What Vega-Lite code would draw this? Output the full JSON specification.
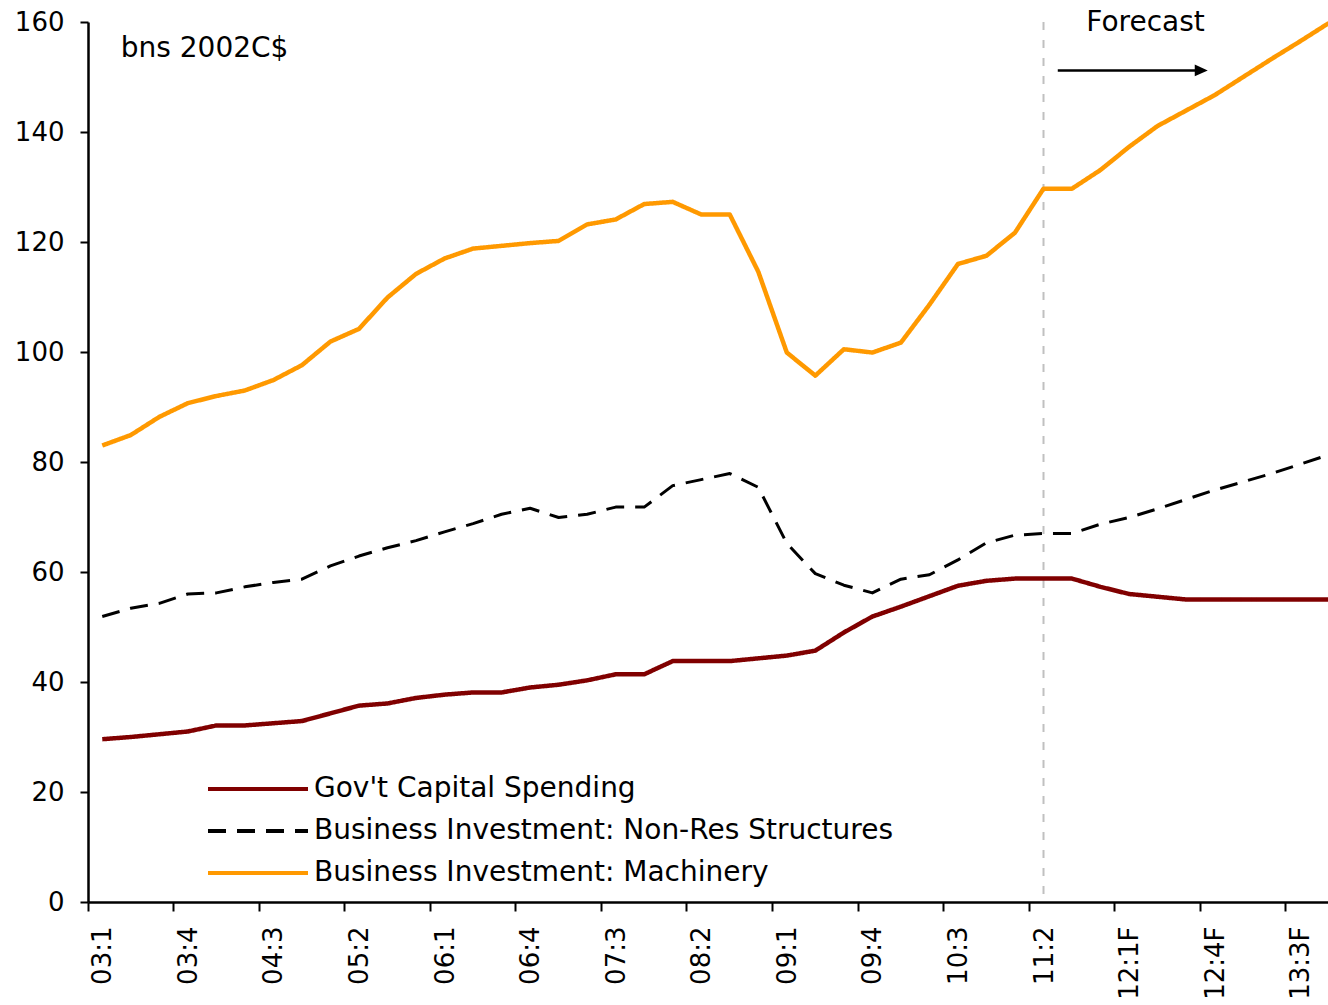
{
  "$schema": "https://vega.github.io/schema/vega-lite/v6.json",
  "width": 1240,
  "height": 880,
  "autosize": {"type": "none"},
  "padding": {"left": 88, "top": 22, "right": 0, "bottom": 103},
  "background": "white",
  "config": {
    "view": {"stroke": null},
    "font": "DejaVu Sans",
    "text": {"font": "DejaVu Sans"}
  },
  "layer": [
    {
      "data": {"values": [{"q": "11:2"}]},
      "mark": {"type": "rule", "color": "#C0C0C0", "strokeWidth": 2, "strokeDash": [8, 10]},
      "encoding": {
        "x": {"field": "q", "type": "ordinal", "bandPosition": 0.5}
      }
    },
    {
      "data": {"values": [
        {"q":"03:1","s":"Gov't Capital Spending","v":29.6},
        {"q":"03:2","s":"Gov't Capital Spending","v":30.0},
        {"q":"03:3","s":"Gov't Capital Spending","v":30.5},
        {"q":"03:4","s":"Gov't Capital Spending","v":31.0},
        {"q":"04:1","s":"Gov't Capital Spending","v":32.1},
        {"q":"04:2","s":"Gov't Capital Spending","v":32.1},
        {"q":"04:3","s":"Gov't Capital Spending","v":32.5},
        {"q":"04:4","s":"Gov't Capital Spending","v":32.9},
        {"q":"05:1","s":"Gov't Capital Spending","v":34.3},
        {"q":"05:2","s":"Gov't Capital Spending","v":35.7},
        {"q":"05:3","s":"Gov't Capital Spending","v":36.1},
        {"q":"05:4","s":"Gov't Capital Spending","v":37.1},
        {"q":"06:1","s":"Gov't Capital Spending","v":37.7},
        {"q":"06:2","s":"Gov't Capital Spending","v":38.1},
        {"q":"06:3","s":"Gov't Capital Spending","v":38.1},
        {"q":"06:4","s":"Gov't Capital Spending","v":39.0},
        {"q":"07:1","s":"Gov't Capital Spending","v":39.5},
        {"q":"07:2","s":"Gov't Capital Spending","v":40.3},
        {"q":"07:3","s":"Gov't Capital Spending","v":41.4},
        {"q":"07:4","s":"Gov't Capital Spending","v":41.4},
        {"q":"08:1","s":"Gov't Capital Spending","v":43.8},
        {"q":"08:2","s":"Gov't Capital Spending","v":43.8},
        {"q":"08:3","s":"Gov't Capital Spending","v":43.8},
        {"q":"08:4","s":"Gov't Capital Spending","v":44.3},
        {"q":"09:1","s":"Gov't Capital Spending","v":44.8},
        {"q":"09:2","s":"Gov't Capital Spending","v":45.7},
        {"q":"09:3","s":"Gov't Capital Spending","v":49.0},
        {"q":"09:4","s":"Gov't Capital Spending","v":51.9},
        {"q":"10:1","s":"Gov't Capital Spending","v":53.7},
        {"q":"10:2","s":"Gov't Capital Spending","v":55.6},
        {"q":"10:3","s":"Gov't Capital Spending","v":57.5},
        {"q":"10:4","s":"Gov't Capital Spending","v":58.4},
        {"q":"11:1","s":"Gov't Capital Spending","v":58.8},
        {"q":"11:2","s":"Gov't Capital Spending","v":58.8},
        {"q":"11:3F","s":"Gov't Capital Spending","v":58.8},
        {"q":"11:4F","s":"Gov't Capital Spending","v":57.3},
        {"q":"12:1F","s":"Gov't Capital Spending","v":56.0},
        {"q":"12:2F","s":"Gov't Capital Spending","v":55.5},
        {"q":"12:3F","s":"Gov't Capital Spending","v":55.0},
        {"q":"12:4F","s":"Gov't Capital Spending","v":55.0},
        {"q":"13:1F","s":"Gov't Capital Spending","v":55.0},
        {"q":"13:2F","s":"Gov't Capital Spending","v":55.0},
        {"q":"13:3F","s":"Gov't Capital Spending","v":55.0},
        {"q":"13:4F","s":"Gov't Capital Spending","v":55.0},
        {"q":"03:1","s":"Business Investment: Non-Res Structures","v":51.9},
        {"q":"03:2","s":"Business Investment: Non-Res Structures","v":53.4},
        {"q":"03:3","s":"Business Investment: Non-Res Structures","v":54.3},
        {"q":"03:4","s":"Business Investment: Non-Res Structures","v":56.0},
        {"q":"04:1","s":"Business Investment: Non-Res Structures","v":56.2},
        {"q":"04:2","s":"Business Investment: Non-Res Structures","v":57.3},
        {"q":"04:3","s":"Business Investment: Non-Res Structures","v":58.1},
        {"q":"04:4","s":"Business Investment: Non-Res Structures","v":58.7},
        {"q":"05:1","s":"Business Investment: Non-Res Structures","v":61.1},
        {"q":"05:2","s":"Business Investment: Non-Res Structures","v":62.9},
        {"q":"05:3","s":"Business Investment: Non-Res Structures","v":64.4},
        {"q":"05:4","s":"Business Investment: Non-Res Structures","v":65.7},
        {"q":"06:1","s":"Business Investment: Non-Res Structures","v":67.3},
        {"q":"06:2","s":"Business Investment: Non-Res Structures","v":68.8},
        {"q":"06:3","s":"Business Investment: Non-Res Structures","v":70.5},
        {"q":"06:4","s":"Business Investment: Non-Res Structures","v":71.6},
        {"q":"07:1","s":"Business Investment: Non-Res Structures","v":69.9},
        {"q":"07:2","s":"Business Investment: Non-Res Structures","v":70.5},
        {"q":"07:3","s":"Business Investment: Non-Res Structures","v":71.8},
        {"q":"07:4","s":"Business Investment: Non-Res Structures","v":71.8},
        {"q":"08:1","s":"Business Investment: Non-Res Structures","v":75.7},
        {"q":"08:2","s":"Business Investment: Non-Res Structures","v":76.8},
        {"q":"08:3","s":"Business Investment: Non-Res Structures","v":77.9},
        {"q":"08:4","s":"Business Investment: Non-Res Structures","v":75.4},
        {"q":"09:1","s":"Business Investment: Non-Res Structures","v":65.2},
        {"q":"09:2","s":"Business Investment: Non-Res Structures","v":59.7},
        {"q":"09:3","s":"Business Investment: Non-Res Structures","v":57.6},
        {"q":"09:4","s":"Business Investment: Non-Res Structures","v":56.2},
        {"q":"10:1","s":"Business Investment: Non-Res Structures","v":58.7},
        {"q":"10:2","s":"Business Investment: Non-Res Structures","v":59.5},
        {"q":"10:3","s":"Business Investment: Non-Res Structures","v":62.2},
        {"q":"10:4","s":"Business Investment: Non-Res Structures","v":65.3},
        {"q":"11:1","s":"Business Investment: Non-Res Structures","v":66.7},
        {"q":"11:2","s":"Business Investment: Non-Res Structures","v":67.0},
        {"q":"11:3F","s":"Business Investment: Non-Res Structures","v":67.0},
        {"q":"11:4F","s":"Business Investment: Non-Res Structures","v":68.7},
        {"q":"12:1F","s":"Business Investment: Non-Res Structures","v":69.9},
        {"q":"12:2F","s":"Business Investment: Non-Res Structures","v":71.5},
        {"q":"12:3F","s":"Business Investment: Non-Res Structures","v":73.2},
        {"q":"12:4F","s":"Business Investment: Non-Res Structures","v":74.9},
        {"q":"13:1F","s":"Business Investment: Non-Res Structures","v":76.4},
        {"q":"13:2F","s":"Business Investment: Non-Res Structures","v":77.9},
        {"q":"13:3F","s":"Business Investment: Non-Res Structures","v":79.6},
        {"q":"13:4F","s":"Business Investment: Non-Res Structures","v":81.3},
        {"q":"03:1","s":"Business Investment: Machinery","v":83.0},
        {"q":"03:2","s":"Business Investment: Machinery","v":84.9},
        {"q":"03:3","s":"Business Investment: Machinery","v":88.2},
        {"q":"03:4","s":"Business Investment: Machinery","v":90.7},
        {"q":"04:1","s":"Business Investment: Machinery","v":92.0},
        {"q":"04:2","s":"Business Investment: Machinery","v":93.0},
        {"q":"04:3","s":"Business Investment: Machinery","v":94.9},
        {"q":"04:4","s":"Business Investment: Machinery","v":97.6},
        {"q":"05:1","s":"Business Investment: Machinery","v":101.9},
        {"q":"05:2","s":"Business Investment: Machinery","v":104.2},
        {"q":"05:3","s":"Business Investment: Machinery","v":109.9},
        {"q":"05:4","s":"Business Investment: Machinery","v":114.2},
        {"q":"06:1","s":"Business Investment: Machinery","v":117.0},
        {"q":"06:2","s":"Business Investment: Machinery","v":118.8},
        {"q":"06:3","s":"Business Investment: Machinery","v":119.3},
        {"q":"06:4","s":"Business Investment: Machinery","v":119.8},
        {"q":"07:1","s":"Business Investment: Machinery","v":120.2},
        {"q":"07:2","s":"Business Investment: Machinery","v":123.2},
        {"q":"07:3","s":"Business Investment: Machinery","v":124.1},
        {"q":"07:4","s":"Business Investment: Machinery","v":126.9},
        {"q":"08:1","s":"Business Investment: Machinery","v":127.3},
        {"q":"08:2","s":"Business Investment: Machinery","v":125.0},
        {"q":"08:3","s":"Business Investment: Machinery","v":125.0},
        {"q":"08:4","s":"Business Investment: Machinery","v":114.6},
        {"q":"09:1","s":"Business Investment: Machinery","v":99.9},
        {"q":"09:2","s":"Business Investment: Machinery","v":95.7},
        {"q":"09:3","s":"Business Investment: Machinery","v":100.5},
        {"q":"09:4","s":"Business Investment: Machinery","v":99.9},
        {"q":"10:1","s":"Business Investment: Machinery","v":101.7},
        {"q":"10:2","s":"Business Investment: Machinery","v":108.6},
        {"q":"10:3","s":"Business Investment: Machinery","v":116.0},
        {"q":"10:4","s":"Business Investment: Machinery","v":117.5},
        {"q":"11:1","s":"Business Investment: Machinery","v":121.7},
        {"q":"11:2","s":"Business Investment: Machinery","v":129.7},
        {"q":"11:3F","s":"Business Investment: Machinery","v":129.7},
        {"q":"11:4F","s":"Business Investment: Machinery","v":133.1},
        {"q":"12:1F","s":"Business Investment: Machinery","v":137.3},
        {"q":"12:2F","s":"Business Investment: Machinery","v":141.1},
        {"q":"12:3F","s":"Business Investment: Machinery","v":143.9},
        {"q":"12:4F","s":"Business Investment: Machinery","v":146.7},
        {"q":"13:1F","s":"Business Investment: Machinery","v":150.0},
        {"q":"13:2F","s":"Business Investment: Machinery","v":153.3},
        {"q":"13:3F","s":"Business Investment: Machinery","v":156.5},
        {"q":"13:4F","s":"Business Investment: Machinery","v":159.8}
      ]},
      "mark": {"type": "line", "strokeJoin": "round", "strokeCap": "butt"},
      "encoding": {
        "x": {
          "field": "q", "type": "ordinal", "bandPosition": 0.5,
          "scale": {
            "type": "band",
            "domain": ["03:1","03:2","03:3","03:4","04:1","04:2","04:3","04:4","05:1","05:2","05:3","05:4","06:1","06:2","06:3","06:4","07:1","07:2","07:3","07:4","08:1","08:2","08:3","08:4","09:1","09:2","09:3","09:4","10:1","10:2","10:3","10:4","11:1","11:2","11:3F","11:4F","12:1F","12:2F","12:3F","12:4F","13:1F","13:2F","13:3F","13:4F"],
            "range": [0, 1255],
            "paddingInner": 0,
            "paddingOuter": 0
          },
          "axis": {
            "title": null,
            "values": ["03:1","03:4","04:3","05:2","06:1","06:4","07:3","08:2","09:1","09:4","10:3","11:2","12:1F","12:4F","13:3F"],
            "bandPosition": 0,
            "labelAngle": 270,
            "labelOffset": 1,
            "labelPadding": 15,
            "labelFontSize": 26,
            "labelFont": "DejaVu Sans",
            "labelColor": "black",
            "tickSize": 9,
            "tickWidth": 2,
            "tickColor": "black",
            "domainColor": "black",
            "domainWidth": 2.5,
            "grid": false
          }
        },
        "y": {
          "field": "v", "type": "quantitative",
          "scale": {"domain": [0, 160], "nice": false, "zero": true},
          "axis": {
            "title": null,
            "values": [0, 20, 40, 60, 80, 100, 120, 140, 160],
            "labelFontSize": 26,
            "labelFont": "DejaVu Sans",
            "labelColor": "black",
            "labelPadding": 16,
            "tickSize": 8,
            "tickWidth": 2,
            "tickColor": "black",
            "domainColor": "black",
            "domainWidth": 2.5,
            "grid": false
          }
        },
        "color": {
          "field": "s", "type": "nominal",
          "scale": {
            "domain": ["Gov't Capital Spending", "Business Investment: Non-Res Structures", "Business Investment: Machinery"],
            "range": ["#800000", "#000000", "#FF9900"]
          },
          "legend": {
            "title": null,
            "orient": "none",
            "legendX": 156,
            "legendY": 753,
            "padding": 0,
            "symbolType": "M-5,0L5,0",
            "symbolSize": 400,
            "symbolStrokeWidth": 4,
            "labelFontSize": 28,
            "labelFont": "DejaVu Sans",
            "labelColor": "black",
            "labelOffset": 42,
            "labelLimit": 0,
            "rowPadding": 14
          }
        },
        "strokeDash": {
          "field": "s", "type": "nominal",
          "scale": {
            "domain": ["Gov't Capital Spending", "Business Investment: Non-Res Structures", "Business Investment: Machinery"],
            "range": [[1, 0], [18, 11], [1, 0]]
          },
          "legend": {
            "title": null,
            "orient": "none",
            "legendX": 156,
            "legendY": 753,
            "padding": 0,
            "symbolType": "M-5,0L5,0",
            "symbolSize": 400,
            "symbolStrokeWidth": 4,
            "labelFontSize": 28,
            "labelFont": "DejaVu Sans",
            "labelColor": "black",
            "labelOffset": 42,
            "labelLimit": 0,
            "rowPadding": 14
          }
        },
        "strokeWidth": {
          "condition": {"test": "datum.s === 'Business Investment: Non-Res Structures'", "value": 3},
          "value": 4.5
        }
      }
    },
    {
      "data": {"values": [{"q": "03:2", "v": 153.7, "label": "bns 2002C$"}]},
      "mark": {"type": "text", "align": "left", "baseline": "alphabetic", "fontSize": 28, "color": "black"},
      "encoding": {
        "x": {"field": "q", "type": "ordinal", "bandPosition": 0.15},
        "y": {"field": "v", "type": "quantitative"},
        "text": {"field": "label"}
      }
    },
    {
      "data": {"values": [{"q": "11:4F", "v": 158.3, "label": "Forecast"}]},
      "mark": {"type": "text", "align": "left", "baseline": "alphabetic", "fontSize": 28, "color": "black"},
      "encoding": {
        "x": {"field": "q", "type": "ordinal", "bandPosition": 0},
        "y": {"field": "v", "type": "quantitative"},
        "text": {"field": "label"}
      }
    },
    {
      "data": {"values": [{"q": "11:3F", "v": 151.2}, {"q": "12:4F", "v": 151.2}]},
      "mark": {"type": "line", "color": "black", "strokeWidth": 2.5},
      "encoding": {
        "x": {"field": "q", "type": "ordinal", "bandPosition": 0},
        "y": {"field": "v", "type": "quantitative"}
      }
    },
    {
      "data": {"values": [{"q": "12:4F", "v": 151.2}]},
      "mark": {"type": "point", "shape": "M-1,-0.9L1,0L-1,0.9Z", "filled": true, "color": "black", "opacity": 1, "size": 169, "strokeWidth": 0},
      "encoding": {
        "x": {"field": "q", "type": "ordinal", "bandPosition": 0.03},
        "y": {"field": "v", "type": "quantitative"}
      }
    }
  ]
}
